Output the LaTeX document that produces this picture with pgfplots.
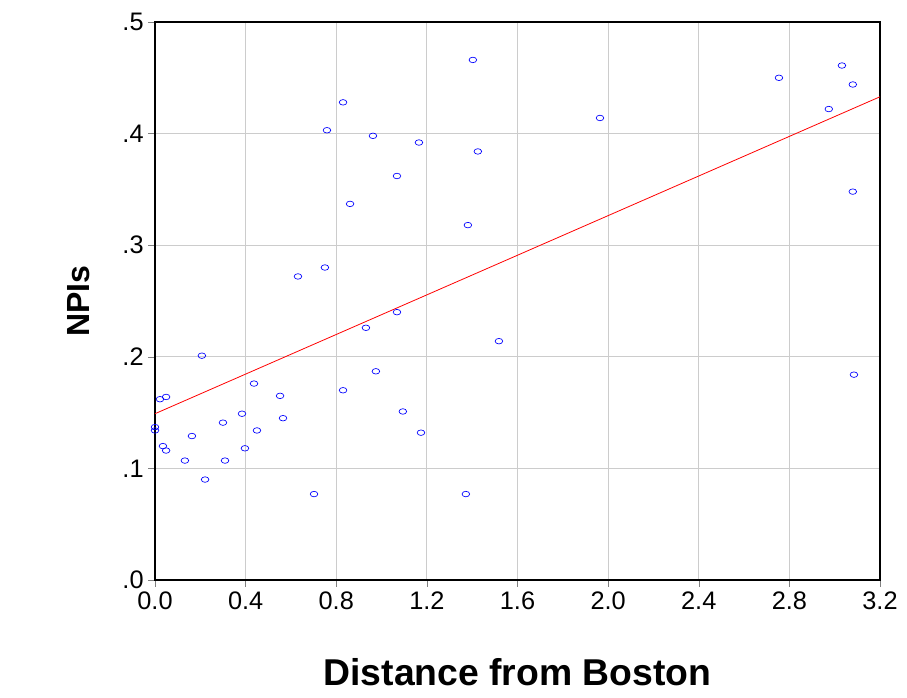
\documentclass[border=0pt]{standalone}
\usepackage{pgfplots}
\pgfplotsset{compat=1.18}
\usepackage{fontspec}
\setmainfont{Liberation Sans}
\begin{document}
\begin{tikzpicture}
\useasboundingbox (-116.25pt,-88.5pt) rectangle (564pt,435pt);
\begin{axis}[at={(0,0)},anchor=south west,scale only axis,
 width=543.75pt,height=418.5pt,
 xmin=0,xmax=3.2,ymin=0,ymax=0.5,
 xtick={0,0.4,...,3.2},ytick={0,0.1,...,0.5},
 xticklabels={0.0,0.4,0.8,1.2,1.6,2.0,2.4,2.8,3.2},
 yticklabels={.0,.1,.2,.3,.4,.5},
 grid=major,grid style={gray!40,line width=0.9pt},
 tick align=outside,tick pos=left,major tick length=5pt,
 tick label style={font=\fontsize{19}{20}\selectfont},
 xlabel={\textbf{Distance from Boston}},ylabel={\textbf{NPIs}},
 xlabel style={font=\fontsize{28}{30}\selectfont,yshift=-30pt},
 ylabel style={font=\fontsize{24}{26}\selectfont,yshift=18pt},
 axis line style={line width=0.8pt},clip=false]
\addplot[only marks,mark=o,blue,mark size=2.6pt,mark options={xscale=1.1,yscale=0.8,line width=0.5pt}] coordinates {
(0,0.137)(0,0.134)(0.022,0.162)(0.049,0.164)(0.035,0.120)(0.049,0.116)(0.132,0.107)(0.163,0.129)(0.207,0.201)(0.221,0.090)(0.300,0.141)(0.309,0.107)(0.384,0.149)(0.397,0.118)(0.437,0.176)(0.450,0.134)(0.552,0.165)(0.565,0.145)(0.631,0.272)(0.702,0.077)(0.750,0.280)(0.759,0.403)(0.830,0.428)(0.830,0.170)(0.861,0.337)(0.931,0.226)(0.962,0.398)(0.975,0.187)(1.068,0.362)(1.068,0.240)(1.094,0.151)(1.165,0.392)(1.174,0.132)(1.381,0.318)(1.372,0.077)(1.403,0.466)(1.425,0.384)(1.518,0.214)(1.964,0.414)(2.754,0.450)(2.974,0.422)(3.032,0.461)(3.080,0.444)(3.080,0.348)(3.085,0.184)};
\addplot[red,line width=0.6pt] coordinates {(0,0.149)(3.2,0.433)};
\end{axis}
\end{tikzpicture}
\end{document}
